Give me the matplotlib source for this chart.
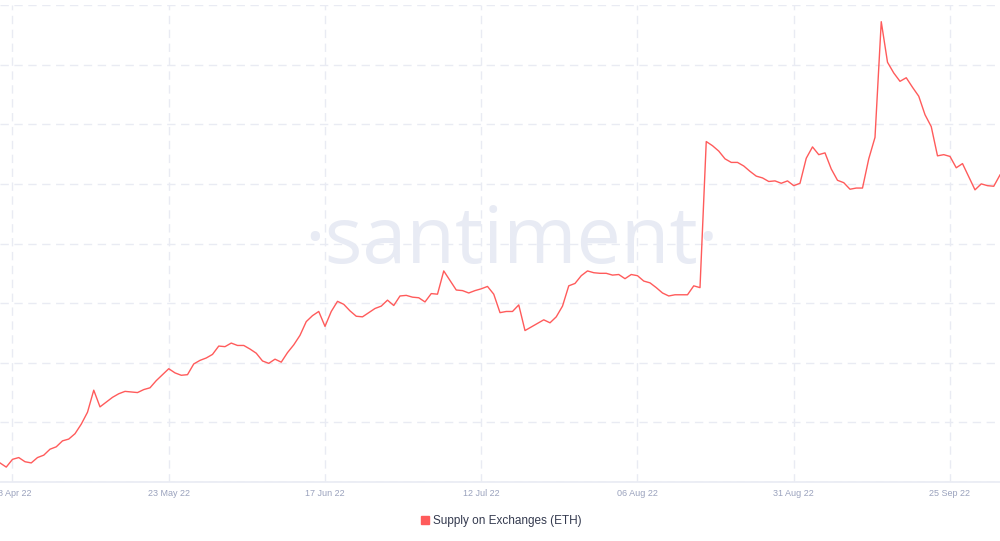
import numpy as np
import pandas as pd
import matplotlib
matplotlib.use('Agg')
import matplotlib.pyplot as plt
import matplotlib.dates as mdates
from matplotlib.lines import Line2D


START = '2022-04-26'

# Supply on exchanges (relative units, one grid step = 1)
supply = [
    0.32, 0.25, 0.38, 0.41, 0.34, 0.32, 0.41, 0.45, 0.55, 0.59,
    0.69, 0.72, 0.81, 0.97, 1.17, 1.54, 1.26, 1.34, 1.42, 1.48,
    1.52, 1.51, 1.50, 1.55, 1.58, 1.70, 1.80, 1.90, 1.83, 1.79,
    1.80, 1.98, 2.04, 2.08, 2.14, 2.28, 2.27, 2.33, 2.29, 2.29,
    2.23, 2.16, 2.03, 1.99, 2.06, 2.01, 2.17, 2.30, 2.46, 2.69,
    2.79, 2.86, 2.61, 2.86, 3.03, 2.98, 2.87, 2.78, 2.77, 2.84,
    2.91, 2.95, 3.05, 2.96, 3.12, 3.13, 3.10, 3.09, 3.02, 3.16,
    3.15, 3.54, 3.38, 3.22, 3.21, 3.17, 3.21, 3.24, 3.28, 3.15,
    2.84, 2.86, 2.86, 2.97, 2.54, 2.60, 2.66, 2.72, 2.67, 2.77,
    2.95, 3.29, 3.33, 3.46, 3.54, 3.51, 3.50, 3.50, 3.47, 3.48,
    3.41, 3.48, 3.46, 3.37, 3.34, 3.26, 3.17, 3.12, 3.14, 3.14,
    3.14, 3.29, 3.26, 5.71, 5.64, 5.55, 5.42, 5.36, 5.36, 5.30,
    5.21, 5.13, 5.10, 5.04, 5.05, 5.01, 5.05, 4.97, 5.01, 5.43,
    5.62, 5.49, 5.52, 5.25, 5.06, 5.02, 4.91, 4.93, 4.93, 5.42,
    5.78, 7.72, 7.04, 6.86, 6.72, 6.78, 6.62, 6.47, 6.16, 5.96,
    5.47, 5.49, 5.46, 5.27, 5.34, 5.12, 4.90, 5.00, 4.97, 4.96,
    5.15,
]
dates = pd.date_range(START, periods=len(supply), freq='D')

tick_dates = pd.date_range('2022-04-28', periods=7, freq='25D')
series_name = 'Supply on Exchanges (ETH)'

LINE = '#ff5b5b'
GRID = '#e9ebf3'
TICK = '#9aa2bd'

fig = plt.figure(figsize=(10, 5.41), dpi=100)
ax = fig.add_axes([0, 59 / 541, 1, 477 / 541])

ax.plot(dates, supply, color=LINE, lw=1.0, zorder=3)

ax.set_xlim(dates[0], dates[-1])
ax.set_ylim(0, 8)
ax.set_yticks(range(0, 9))
ax.set_xticks(tick_dates)
ax.xaxis.set_major_formatter(mdates.DateFormatter('%d %b %y'))

ax.grid(True, color=GRID, lw=1.0, linestyle=(0, (6, 4)))
ax.tick_params(axis='y', length=0, labelleft=False)
ax.tick_params(axis='x', length=0, pad=5, labelsize=6.5, labelcolor=TICK)
for lbl in ax.get_xticklabels():
    lbl.set_fontfamily('Liberation Sans')

for side in ('top', 'left', 'right'):
    ax.spines[side].set_visible(False)
ax.spines['bottom'].set_color(GRID)
ax.spines['bottom'].set_linewidth(1.2)

# watermark
fig.text(0.511, 1 - 263 / 541, '\u00b7santiment\u00b7', ha='center', va='baseline',
         fontsize=57, color='#e8ebf4', family='Open Sans', zorder=0)

handle = Line2D([], [], color=LINE, marker='s', linestyle='none', markersize=6)
fig.legend(handles=[handle], labels=[series_name], loc='center',
           bbox_to_anchor=(0.5, 1 - 521 / 541), frameon=False,
           handletextpad=0.2, handlelength=1.0,
           prop={'family': 'Liberation Sans', 'size': 8.5}, labelcolor='#343a4f')

fig.savefig('out.png', dpi=100)
